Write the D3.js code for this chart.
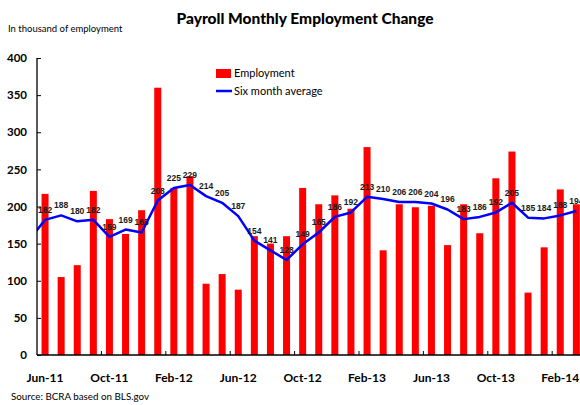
<!DOCTYPE html>
<html><head><meta charset="utf-8">
<script src="https://cdn.jsdelivr.net/npm/d3@7"></script>
<style>body{margin:0;background:#fff}svg{display:block}</style>
</head><body>
<svg id="c" width="580" height="405"></svg>
<script>
const months = ["Jun-11","Jul-11","Aug-11","Sep-11","Oct-11","Nov-11","Dec-11","Jan-12","Feb-12","Mar-12","Apr-12","May-12","Jun-12","Jul-12","Aug-12","Sep-12","Oct-12","Nov-12","Dec-12","Jan-13","Feb-13","Mar-13","Apr-13","May-13","Jun-13","Jul-13","Aug-13","Sep-13","Oct-13","Nov-13","Dec-13","Jan-14","Feb-14","Mar-14"];
const employment = [217,105,121,221,183,163,195,360,225,241,96,109,88,160,150,160,225,203,215,197,280,141,203,199,201,148,203,164,238,274,84,145,223,203];
const sixMonthAvg = [182,188,180,182,159,169,165,208,225,229,214,205,187,154,141,128,149,165,186,192,213,210,206,206,204,196,183,186,192,205,185,184,188,194];
const prevMonth = "May-11", prevAvg = 155;
const tickLabels = ["Jun-11","Oct-11","Feb-12","Jun-12","Oct-12","Feb-13","Jun-13","Oct-13","Feb-14"];
const yTicks = [0,50,100,150,200,250,300,350,400];

(function(){
const svg = d3.select("#c");
const mLeft = 37, mTop = 58, mBottom = 355, step = 16.1;
const x = d3.scaleBand().domain(months).range([mLeft, mLeft + step*months.length]).paddingInner(0.565).paddingOuter(0.2825);
const xAll = d3.scalePoint().domain([prevMonth, ...months]).range([mLeft - step/2, mLeft + step*months.length - step/2]);
const y = d3.scaleLinear().domain([0,400]).range([mBottom, mTop]);

svg.append("defs").append("clipPath").attr("id","clip").append("rect")
  .attr("x", mLeft).attr("y", 0).attr("width", 600).attr("height", 405);

svg.append("text").attr("x", 305).attr("y", 24).attr("text-anchor","middle")
  .attr("font-family","Lato, sans-serif").attr("font-weight","900").attr("font-size", 15.5)
  .attr("fill","#000").text("Payroll Monthly Employment Change");
svg.append("text").attr("x", 8).attr("y", 32)
  .attr("font-family","Lato, sans-serif").attr("font-size", 9.5).attr("fill","#000")
  .text("In thousand of employment");

svg.append("g").selectAll("rect").data(employment).join("rect")
  .attr("x", (d,i) => x(months[i])).attr("width", x.bandwidth())
  .attr("y", d => y(d)).attr("height", d => y(0) - y(d)).attr("fill", "#ff0000");

const allMonths = [prevMonth, ...months];
const lineData = [prevAvg, ...sixMonthAvg].map((v,i) => [xAll(allMonths[i]), y(v)]);
svg.append("path").attr("clip-path","url(#clip)").attr("d", d3.line()(lineData))
  .attr("fill","none").attr("stroke","#0000ff").attr("stroke-width", 2.5).attr("stroke-linejoin","round");

svg.append("g").selectAll("text").data(sixMonthAvg).join("text")
  .attr("x", (d,i) => x(months[i]) + x.bandwidth()/2).attr("y", d => y(d) - 7)
  .attr("text-anchor","middle").attr("font-family","Liberation Sans, Arial, sans-serif")
  .attr("font-weight","bold").attr("font-size", 8.5).attr("fill","#1a1a1a").text(d => d);

const ya = svg.append("g").attr("transform", `translate(${mLeft},0)`)
  .call(d3.axisLeft(y).tickValues(yTicks).tickSize(-4).tickPadding(10));
ya.select(".domain").attr("stroke","#000").attr("stroke-width",1.3).attr("d", `M0,${mTop}V${mBottom}`);
ya.selectAll(".tick line").attr("stroke","#000");
ya.selectAll("text").attr("font-family","Lato, sans-serif").attr("font-weight","bold").attr("font-size", 11.5).attr("fill","#000");

const xa = svg.append("g").attr("transform", `translate(0,${mBottom})`);
xa.append("line").attr("x1", mLeft).attr("x2", 580).attr("stroke","#000").attr("stroke-width",1.5);
const tickBounds = months.filter((m,i) => i % 4 === 0 && i > 0);
xa.selectAll("line.t").data(tickBounds).join("line").attr("class","t")
  .attr("x1", d => x(d) - x.step()*x.paddingOuter()).attr("x2", d => x(d) - x.step()*x.paddingOuter())
  .attr("y1", 0).attr("y2", -4).attr("stroke","#000");
xa.selectAll("text").data(tickLabels).join("text")
  .attr("x", d => x(d) + x.bandwidth()/2).attr("y", 27).attr("text-anchor","middle")
  .attr("font-family","Lato, sans-serif").attr("font-weight","bold").attr("font-size", 12).attr("fill","#000").text(d => d);

const lg = svg.append("g");
lg.append("rect").attr("x",216).attr("y",69).attr("width",15).attr("height",9).attr("fill","#ff0000");
lg.append("text").attr("x",234).attr("y",77).attr("font-family","Lato, sans-serif").attr("font-size",11).text("Employment");
lg.append("line").attr("x1",216).attr("x2",232).attr("y1",91).attr("y2",91).attr("stroke","#0000ff").attr("stroke-width",2.5);
lg.append("text").attr("x",234).attr("y",95).attr("font-family","Lato, sans-serif").attr("font-size",11).text("Six month average");

svg.append("text").attr("x", 11).attr("y", 400).attr("font-family","Lato, sans-serif").attr("font-size", 9.8)
  .text("Source: BCRA based on BLS.gov");
})();
</script>
</body></html>
